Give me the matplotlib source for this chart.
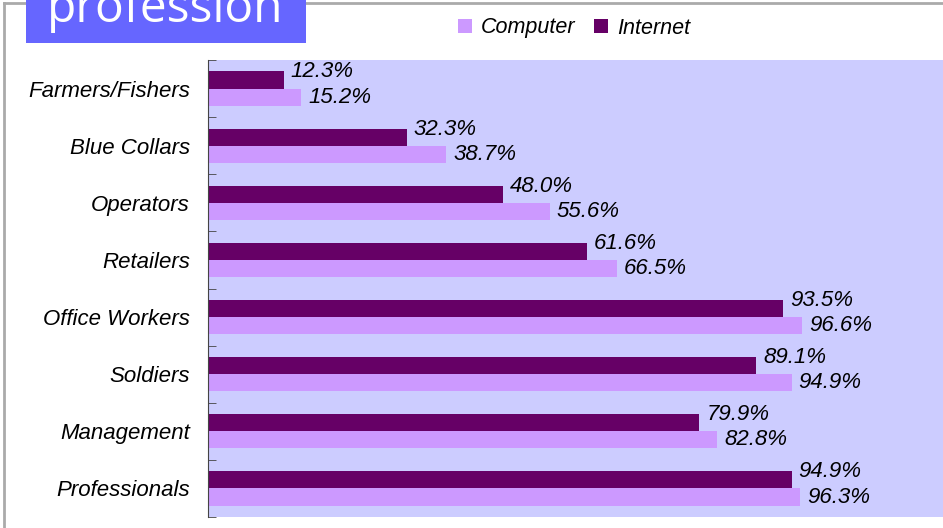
import matplotlib.pyplot as plt
from matplotlib.patches import Rectangle, Patch
from matplotlib.lines import Line2D

categories = ["Farmers/Fishers", "Blue Collars", "Operators", "Retailers",
              "Office Workers", "Soldiers", "Management", "Professionals"]
computer = [15.2, 38.7, 55.6, 66.5, 96.6, 94.9, 82.8, 96.3]
internet = [12.3, 32.3, 48.0, 61.6, 93.5, 89.1, 79.9, 94.9]

W, H = 943, 528
fig = plt.figure(figsize=(W / 100, H / 100), dpi=100)

# grey outer frame (top and left edges)
fig.add_artist(Line2D([4 / W, 1], [1 - 3 / H, 1 - 3 / H], transform=fig.transFigure,
                      color="#aaaaaa", lw=2))
fig.add_artist(Line2D([4 / W, 4 / W], [0, 1 - 3 / H], transform=fig.transFigure,
                      color="#aaaaaa", lw=2))

# title tab
fig.add_artist(Rectangle((26 / W, 1 - 43 / H), 280 / W, 60 / H, transform=fig.transFigure,
                         facecolor="#6666ff", edgecolor="none", zorder=3))
fig.text(47 / W, 1 - 22 / H, "profession", color="white", fontsize=34.5,
         family="Open Sans", va="baseline", ha="left", zorder=4)

ax = fig.add_axes([208 / W, 11 / H, 738 / W, 457 / H])
ax.set_facecolor("#ccccff")

y = list(range(len(categories)))
h = 0.3
ax.barh([i - h / 2 for i in y], internet, height=h, color="#660066", zorder=2)
ax.barh([i + h / 2 for i in y], computer, height=h, color="#cc99ff", zorder=2)

lab = dict(fontsize=16, style="italic", family="Liberation Sans", color="#000000",
           textcoords="offset pixels", ha="left", va="center")
for i in y:
    ax.annotate(f"{internet[i]:.1f}%", (internet[i], i - h / 2), xytext=(7, 8), **lab)
    ax.annotate(f"{computer[i]:.1f}%", (computer[i], i + h / 2), xytext=(7, 0), **lab)

ax.set_xlim(0, 120)
ax.set_ylim(len(categories) - 0.5, -0.5)
ax.set_yticks(y)
ax.set_yticklabels(categories, fontsize=16, style="italic", family="Liberation Sans",
                   color="#000000")
ax.set_yticks([i - 0.5 for i in range(len(categories) + 1)], minor=True)
ax.tick_params(axis="y", which="major", length=0, pad=13)
ax.tick_params(axis="y", which="minor", direction="in", length=6, color="#444444")
ax.set_xticks([])
for s in ["top", "right", "bottom"]:
    ax.spines[s].set_visible(False)
ax.spines["left"].set_color("#444444")

handles = [Patch(facecolor="#cc99ff", label="Computer"),
           Patch(facecolor="#660066", label="Internet")]
fig.legend(handles=handles, loc="center", bbox_to_anchor=(574 / W, 1 - 28 / H), ncol=2,
           frameon=False, handlelength=0.65, handleheight=0.65, handletextpad=0.4,
           columnspacing=0.9, prop=dict(family="Liberation Sans", style="italic", size=15.5))

fig.savefig("out.png", dpi=100)
